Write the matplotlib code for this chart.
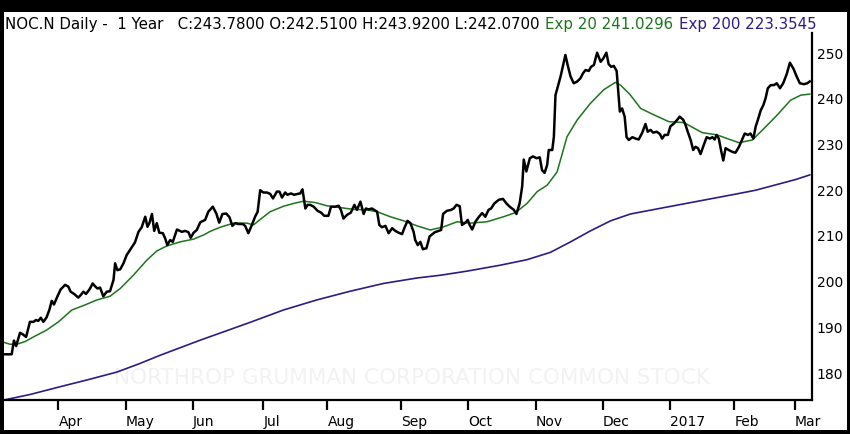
import matplotlib
matplotlib.use('Agg')
import matplotlib.pyplot as plt
from matplotlib.patches import Rectangle

# trading-day index (0 = first bar on the chart) and closing price
close_day = [0.0, 2.4, 3.1, 3.8, 4.2, 5.0, 5.8, 6.9, 8.1, 9.2, 10.0, 10.7, 11.5, 12.3, 13.3,
             14.2, 14.9, 15.6, 16.7, 17.7, 19.1, 20.1, 20.8, 21.9, 23.2, 24.0, 24.8, 25.6, 26.7,
             27.7, 28.4, 29.2, 30.0, 31.0, 32.1, 33.1, 34.2, 34.7, 35.4, 36.3, 37.3, 38.3, 39.9,
             40.9, 42.0, 43.0, 44.1, 44.8, 45.4, 46.2, 46.9, 47.7, 48.5, 49.6, 50.3, 51.0, 51.9,
             52.7, 54.0, 55.5, 56.6, 57.6, 58.3, 59.2, 60.2, 61.3, 62.8, 63.8, 65.2, 66.3, 67.2,
             68.2, 69.4, 70.4, 71.3, 72.2, 73.2, 74.6, 75.3, 76.3, 77.4, 78.4, 79.2, 80.0, 81.0,
             82.1, 83.1, 84.0, 85.2, 86.0, 86.8, 87.8, 88.5, 89.6, 90.6, 91.7, 92.5, 93.2, 94.1,
             94.8, 95.6, 96.7, 97.9, 99.0, 100.0, 101.3, 102.1, 103.4, 104.5, 105.2, 106.0, 107.1,
             108.3, 109.4, 110.2, 111.3, 112.3, 113.0, 113.8, 114.9, 115.6, 116.5, 117.2, 118.0,
             119.1, 120.1, 121.2, 122.2, 123.2, 124.3, 125.0, 126.0, 126.9, 127.9, 128.4, 129.2,
             130.0, 130.8, 131.9, 132.9, 134.5, 136.5, 137.1, 138.3, 139.6, 140.4, 141.3, 142.3,
             143.0, 144.1, 144.8, 145.4, 146.2, 147.2, 148.2, 149.3, 150.3, 151.3, 152.1, 153.1,
             154.5, 155.8, 156.9, 157.9, 159.2, 160.0, 161.0, 161.8, 162.3, 163.1, 164.2, 165.2,
             166.3, 167.3, 168.0, 168.8, 169.6, 170.1, 171.2, 171.7, 172.2, 172.9, 173.8, 174.6,
             175.3, 176.0, 176.9, 177.9, 179.0, 180.0, 180.8, 181.6, 182.6, 183.3, 184.2, 185.2,
             186.3, 187.1, 188.1, 188.8, 189.6, 190.4, 191.3, 192.3, 193.0, 193.8, 194.4, 195.1,
             196.2, 197.2, 198.2, 199.3, 200.3, 201.0, 201.9, 202.7, 203.8, 204.8, 205.5, 206.3,
             207.3, 208.1, 209.2, 210.2, 211.0, 212.1, 212.8, 213.5, 214.4, 215.2, 215.9, 216.7,
             217.5, 218.3, 219.4, 220.4, 221.2, 221.9, 222.5, 223.2, 224.0, 224.6, 225.3, 226.3,
             227.4, 228.4, 229.5, 230.5, 231.3, 232.3, 233.1, 234.0, 234.7, 235.4, 236.3, 237.1,
             237.8, 238.5, 239.4, 240.4, 241.3, 242.3, 243.3, 244.4, 245.4, 246.5, 247.5, 248.5,
             249.8, 250.8, 251.6]
close_px = [184.1, 184.1, 187.1, 185.9, 186.9, 188.8, 188.5, 187.9, 191.2, 191.2, 191.6, 191.4,
            192.1, 191.2, 192.2, 193.9, 195.8, 195.0, 196.8, 198.3, 199.3, 198.9, 197.8, 197.3,
            196.5, 197.1, 197.8, 197.3, 198.3, 199.6, 199.0, 198.5, 198.7, 196.8, 197.8, 197.9,
            200.4, 204.0, 202.5, 202.7, 204.0, 205.8, 207.5, 208.6, 210.9, 211.9, 214.2, 212.0,
            212.8, 214.8, 211.1, 212.8, 210.7, 210.6, 209.5, 208.0, 209.1, 208.7, 211.4, 210.9,
            211.1, 210.8, 209.6, 210.7, 211.3, 213.0, 213.5, 215.3, 216.4, 214.9, 212.9, 214.8,
            214.9, 214.1, 212.2, 212.8, 212.6, 212.6, 212.2, 210.6, 212.4, 214.2, 215.3, 220.0,
            219.5, 219.5, 219.2, 218.2, 219.7, 219.7, 218.4, 219.5, 219.0, 219.3, 219.0, 219.2,
            219.3, 220.2, 216.0, 216.8, 216.8, 216.4, 215.5, 215.1, 214.4, 214.4, 216.4, 216.4,
            216.6, 215.7, 213.8, 214.6, 215.1, 216.8, 215.7, 217.5, 214.8, 216.0, 215.8, 216.0,
            215.7, 215.3, 212.4, 211.9, 212.2, 210.6, 211.7, 211.1, 210.7, 210.4, 211.7, 213.3,
            212.8, 210.9, 209.1, 208.0, 208.7, 207.1, 207.3, 209.9, 210.8, 211.3, 214.8, 215.5,
            215.7, 216.0, 216.8, 216.5, 212.4, 212.9, 213.5, 212.4, 211.4, 213.1, 214.1, 215.0,
            214.2, 215.7, 216.0, 217.1, 217.9, 218.1, 217.1, 216.4, 215.7, 214.8, 217.1, 220.8,
            226.7, 224.1, 227.0, 227.4, 227.0, 227.2, 224.4, 223.8, 225.5, 228.8, 228.8, 231.7,
            240.8, 242.6, 244.9, 247.4, 249.6, 247.4, 244.9, 243.4, 243.8, 244.5, 245.6, 246.3,
            246.1, 247.0, 247.4, 250.1, 248.1, 248.8, 250.1, 247.6, 247.0, 247.2, 246.1, 237.2,
            237.9, 236.1, 231.6, 231.0, 231.6, 231.3, 231.1, 232.6, 234.5, 232.8, 233.2, 232.6,
            232.8, 232.3, 231.3, 232.1, 232.1, 234.0, 234.6, 235.4, 236.1, 235.4, 234.3, 232.8,
            231.0, 228.8, 229.5, 229.2, 227.9, 229.5, 231.6, 231.3, 231.6, 231.1, 232.1, 231.3,
            228.4, 226.5, 229.2, 228.8, 228.4, 228.2, 229.5, 231.1, 232.4, 232.1, 232.4, 231.3,
            233.9, 235.4, 237.5, 238.6, 240.1, 242.3, 243.0, 243.0, 243.4, 242.3, 243.4, 245.4,
            247.9, 246.6, 244.9, 243.4, 243.2, 243.4, 243.8]

# 20-day exponential average
ema20_day = [0.0, 1.9, 4.0, 6.6, 9.2, 13.3, 17.0, 21.2, 25.3, 29.0, 33.1, 36.3, 40.4, 44.6,
             47.7, 50.8, 55.0, 59.2, 62.3, 64.4, 67.5, 71.7, 75.8, 77.9, 80.0, 83.1, 87.3, 90.4,
             93.5, 97.2, 100.8, 105.0, 109.2, 113.3, 116.5, 120.6, 124.8, 129.0, 133.1, 137.3,
             141.5, 145.6, 150.8, 156.0, 159.7, 163.3, 166.5, 169.6, 172.7, 175.8, 179.0, 183.1,
             187.3, 190.9, 192.5, 195.4, 198.8, 202.9, 207.6, 212.3, 218.0, 222.7, 225.8, 229.5,
             233.7, 237.3, 241.5, 245.6, 248.8, 251.6]
ema20 = [186.7, 186.3, 186.3, 186.9, 187.9, 189.4, 191.2, 193.8, 194.9, 196.0, 196.8, 198.5,
         201.4, 204.7, 206.7, 207.8, 208.7, 209.3, 210.2, 211.0, 211.9, 212.8, 212.8, 212.4,
         213.6, 215.3, 216.5, 217.1, 217.6, 217.3, 216.6, 216.2, 215.8, 215.7, 215.3, 214.2,
         213.3, 212.2, 211.3, 212.0, 213.1, 212.8, 213.1, 214.2, 215.1, 217.1, 219.7, 221.1,
         224.0, 231.7, 235.4, 239.0, 242.0, 243.6, 243.0, 241.0, 237.9, 236.5, 235.0, 234.8,
         232.6, 232.1, 231.3, 230.4, 231.0, 233.5, 236.5, 239.7, 240.8, 241.03]

# 200-day exponential average
ema200_day = [0.0, 8.1, 17.5, 26.0, 35.2, 42.1, 48.8, 61.3, 76.9, 87.3, 97.7, 108.1, 118.5,
              129.0, 136.3, 144.6, 155.0, 163.3, 170.6, 176.9, 183.1, 189.4, 195.6, 208.4,
              228.1, 234.7, 247.5, 251.6]
ema200 = [174.1, 175.3, 177.0, 178.5, 180.2, 182.0, 183.9, 187.2, 191.1, 193.8, 196.0, 197.9,
          199.6, 200.8, 201.4, 202.3, 203.6, 204.8, 206.4, 208.7, 211.1, 213.3, 214.8, 216.5,
          219.1, 220.0, 222.4, 223.35]

month_days = [17, 38, 59, 81, 101, 124, 145, 166, 187, 208, 228, 247]
month_names = ['Apr', 'May', 'Jun', 'Jul', 'Aug', 'Sep', 'Oct', 'Nov', 'Dec', '2017', 'Feb', 'Mar']
price_ticks = [180, 190, 200, 210, 220, 230, 240, 250]

green = '#1e741e'
purple = '#2e1c80'

plt.rcParams['font.family'] = ['DejaVu Sans']

fig = plt.figure(figsize=(8.5, 4.34), dpi=100)
fig.patch.set_facecolor('black')
# white panel inside the black frame
fig.add_artist(Rectangle((4 / 850, 4 / 434), 843 / 850, 418 / 434,
                         transform=fig.transFigure, facecolor='white', edgecolor='none', zorder=0))

ax = fig.add_axes([4 / 850, 34 / 434, 808 / 850, 367 / 434])
ax.set_facecolor('white')

# watermark
ax.text(0.505, 0.06, 'NORTHROP GRUMMAN CORPORATION COMMON STOCK', transform=ax.transAxes,
        ha='center', va='center', fontsize=15.5, color='#f2f2f2', zorder=0)

ax.plot(ema200_day, ema200, color=purple, lw=1.2, zorder=2)
ax.plot(ema20_day, ema20, color=green, lw=1.1, zorder=3)
ax.plot(close_day, close_px, color='black', lw=1.8, zorder=4)

ax.set_xlim(0, 252.3)
ax.set_ylim(174.1, 254.4)

for s in ['left', 'top']:
    ax.spines[s].set_visible(False)
for s in ['bottom', 'right']:
    ax.spines[s].set_linewidth(1.6)
    ax.spines[s].set_color('black')

ax.yaxis.tick_right()
ax.set_yticks(price_ticks)
ax.tick_params(axis='y', length=0, pad=3.5, labelsize=10)
ax.set_xticks(month_days)
ax.set_xticklabels(month_names, ha='left')
ax.tick_params(axis='x', direction='out', length=7, width=1.6, pad=3.5, labelsize=10)

# header line, three colours chained one after the other
t1 = fig.text(5 / 850, 1 - 32 / 434, 'NOC.N Daily -  1 Year   C:243.7800 O:242.5100 H:243.9200 L:242.0700',
              fontsize=10.8, color='black', va='bottom', ha='left')
t2 = ax.annotate('Exp 20 241.0296', xy=(1, 0), xycoords=t1, xytext=(4, 0),
                 textcoords='offset points', fontsize=10.8, color=green, va='bottom',
                 annotation_clip=False)
ax.annotate('Exp 200 223.3545', xy=(1, 0), xycoords=t2, xytext=(4, 0),
            textcoords='offset points', fontsize=10.8, color=purple, va='bottom',
            annotation_clip=False)

fig.savefig('out.png', dpi=100, facecolor=fig.get_facecolor())
